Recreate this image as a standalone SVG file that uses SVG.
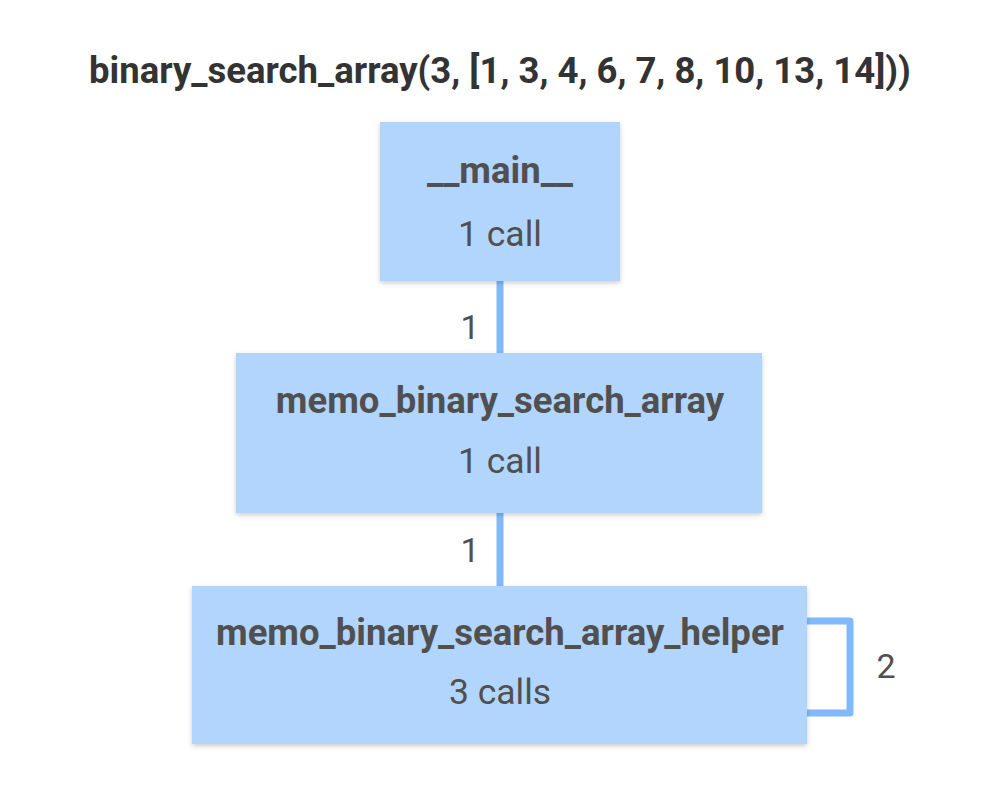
<svg xmlns="http://www.w3.org/2000/svg" width="1000" height="800" viewBox="0 0 1000 800">
<style>
.box{fill:#b1d5fd;filter:url(#sh)}
.t{font-family:Roboto,"Liberation Sans",sans-serif;fill:#505050;text-anchor:middle}
.b{font-weight:bold;font-size:36.5px}
.r{font-size:35.5px}
.e{stroke:#80bafa;stroke-width:7;fill:none;stroke-linejoin:round}
.lbl{font-family:Roboto,"Liberation Sans",sans-serif;fill:#505050;font-size:34px;text-anchor:middle}
</style>
<defs>
<filter id="sh" x="-5%" y="-5%" width="110%" height="115%">
<feDropShadow dx="0" dy="2" stdDeviation="2.5" flood-color="#000" flood-opacity="0.2"/>
</filter>
</defs>
<rect width="1000" height="800" fill="#fff"/>
<text x="500" y="83" class="t b" style="fill:#333">binary_search_array(3, [1, 3, 4, 6, 7, 8, 10, 13, 14]))</text>
<g id="edges">
<line x1="500" y1="281" x2="500" y2="353" class="e"/>
<line x1="500" y1="513" x2="500" y2="586" class="e"/>
<path d="M807 621 H850 V713 H807" class="e"/>
<text x="470" y="339" class="lbl">1</text>
<text x="470" y="562" class="lbl">1</text>
<text x="886" y="678" class="lbl">2</text>
</g>
<g id="main">
<rect x="380" y="122" width="240" height="159" class="box"/>
<text x="500" y="183" class="t b">__main__</text>
<text x="500" y="246" class="t r">1 call</text>
</g>
<g id="memo">
<rect x="236" y="353" width="526" height="160" class="box"/>
<text x="500" y="413" class="t b">memo_binary_search_array</text>
<text x="500" y="473" class="t r">1 call</text>
</g>
<g id="helper">
<rect x="192" y="586" width="615" height="158" class="box"/>
<text x="500" y="645" class="t b">memo_binary_search_array_helper</text>
<text x="500" y="704" class="t r">3 calls</text>
</g>
</svg>
